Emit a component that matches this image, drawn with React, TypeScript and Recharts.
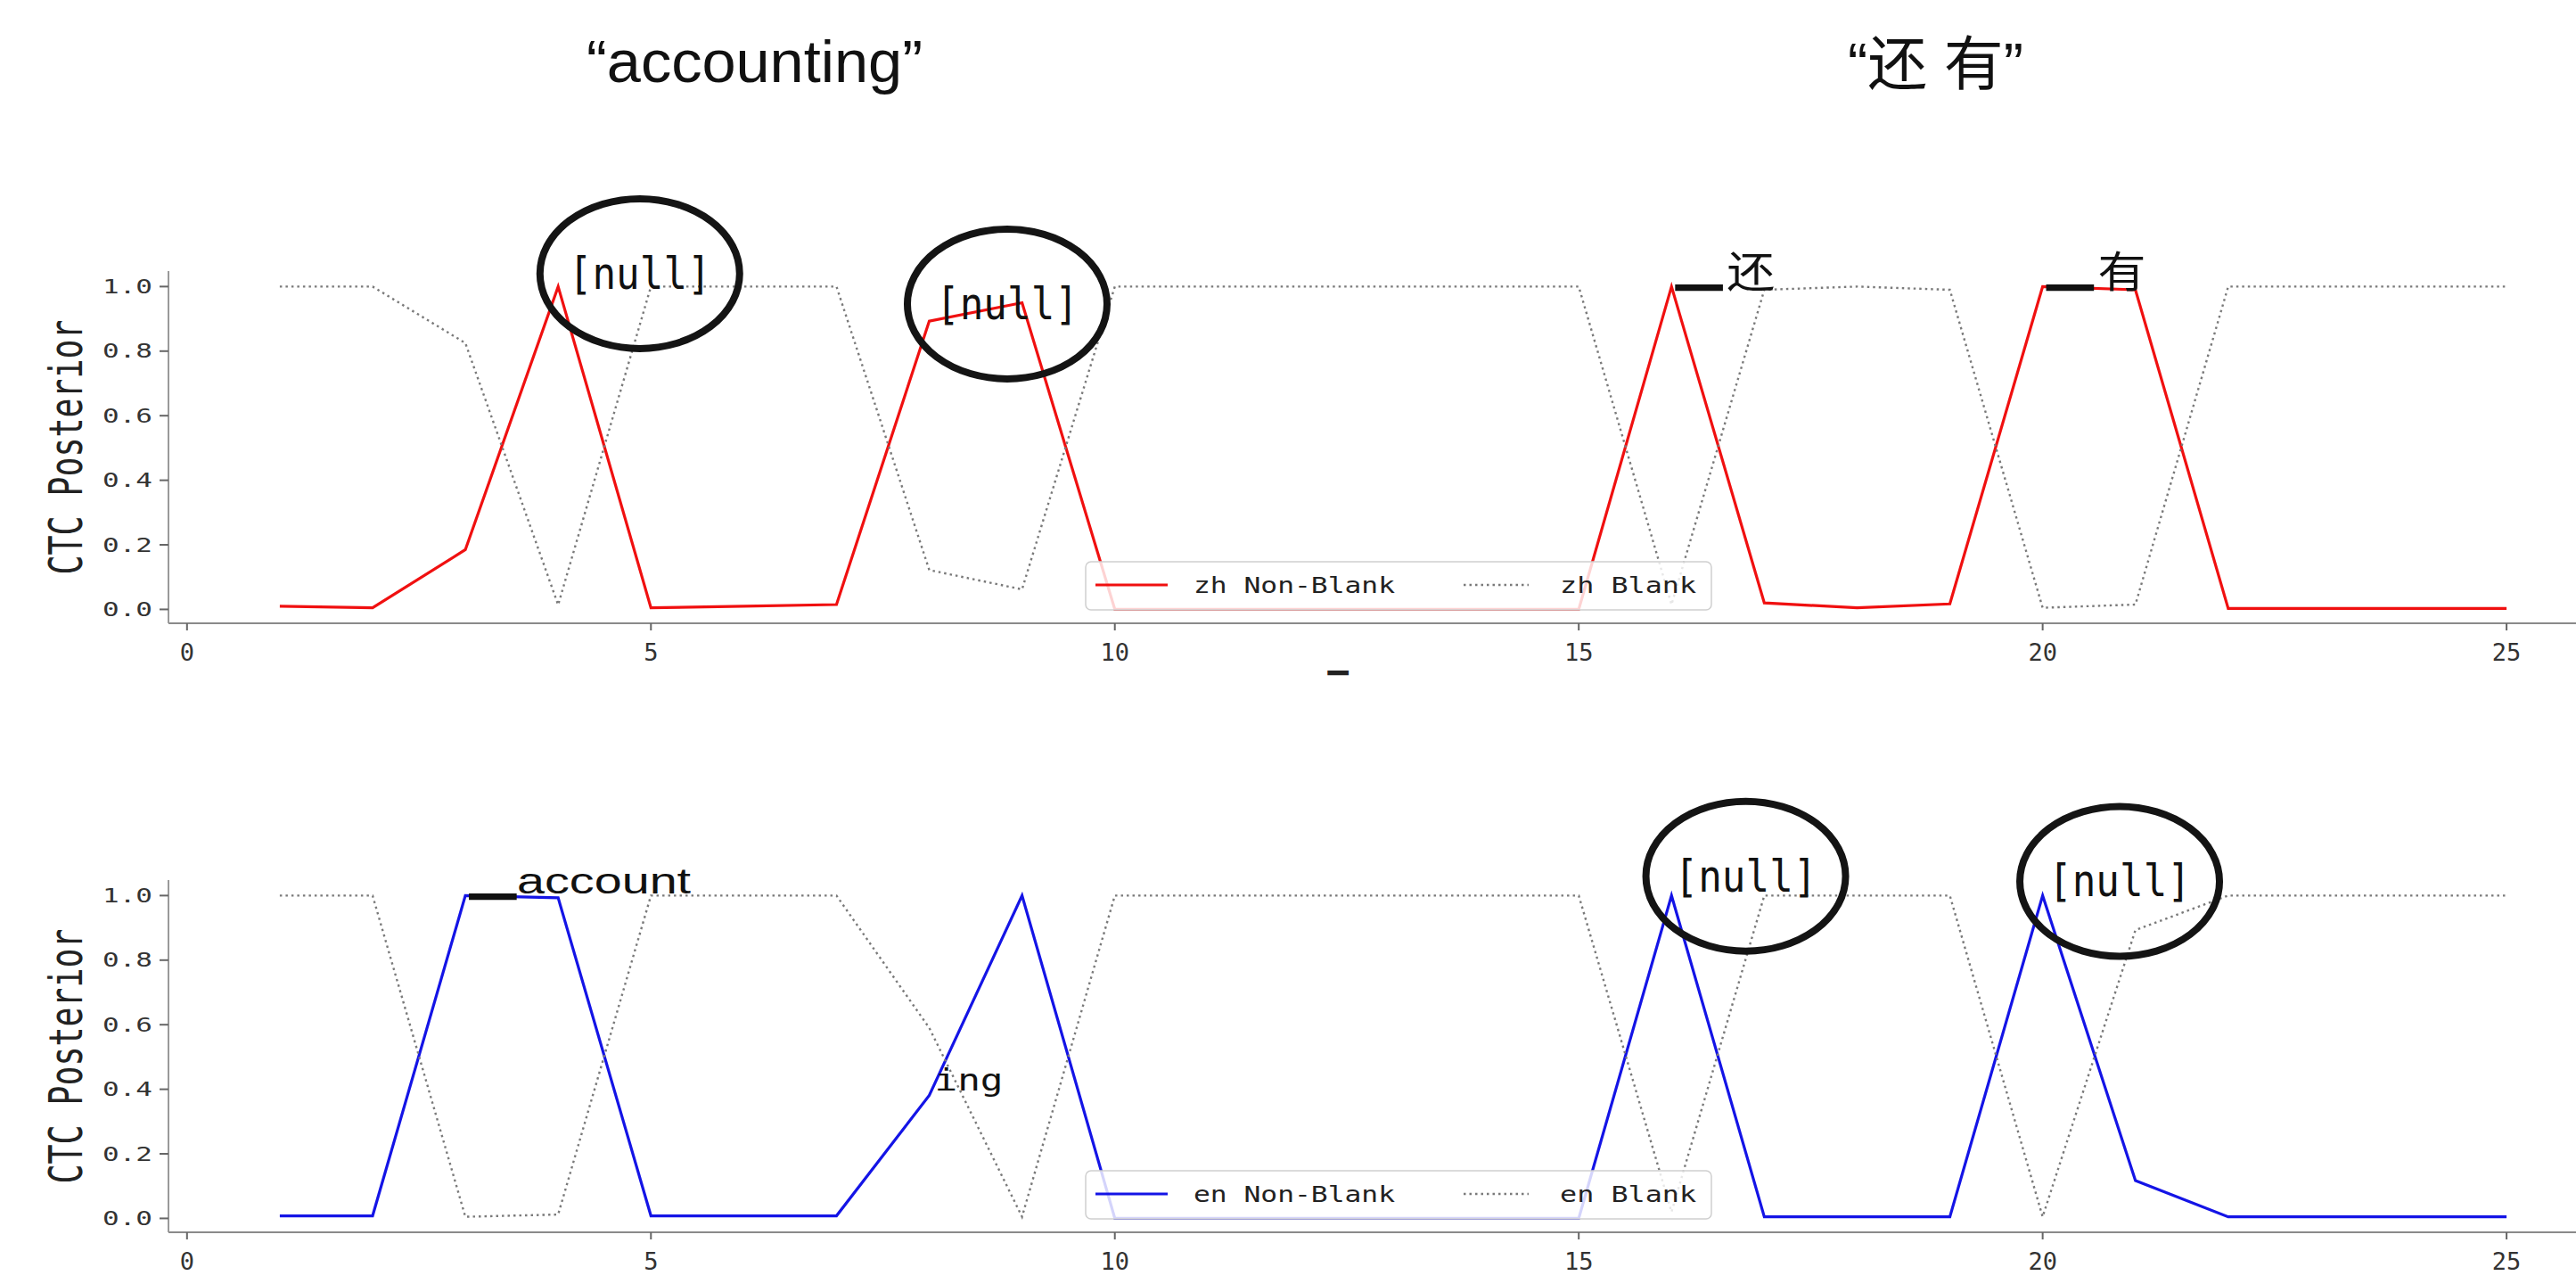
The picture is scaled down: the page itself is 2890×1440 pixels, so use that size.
import React from "react";
import { LineChart, Line, XAxis, YAxis, ReferenceDot, Legend } from "recharts";

// frame index (x axis)
const steps = [1, 2, 3, 4, 5, 6, 7, 8, 9, 10, 11, 12, 13, 14, 15, 16, 17, 18, 19, 20, 21, 22, 23, 24, 25];

const zhNonBlank = [0.01, 0.005, 0.185, 1.0, 0.005, 0.01, 0.015, 0.893, 0.95, 0.0, 0.0, 0.0, 0.0, 0.0, 0.0, 1.0, 0.02, 0.005, 0.017, 1.0, 0.99, 0.003, 0.003, 0.003, 0.003];
const zhBlank = [1.0, 1.0, 0.825, 0.014, 1.0, 1.0, 1.0, 0.122, 0.062, 1.0, 1.0, 1.0, 1.0, 1.0, 1.0, 0.015, 0.99, 1.0, 0.99, 0.005, 0.015, 1.0, 1.0, 1.0, 1.0];

const enNonBlank = [0.008, 0.008, 1.0, 0.993, 0.008, 0.008, 0.008, 0.381, 1.0, 0.0, 0.0, 0.0, 0.0, 0.0, 0.0, 1.0, 0.005, 0.005, 0.005, 1.0, 0.117, 0.005, 0.005, 0.005, 0.005];
const enBlank = [1.0, 1.0, 0.005, 0.012, 1.0, 1.0, 1.0, 0.59, 0.005, 1.0, 1.0, 1.0, 1.0, 1.0, 1.0, 0.02, 1.0, 1.0, 1.0, 0.005, 0.893, 1.0, 1.0, 1.0, 1.0];

const xTicks = [0, 5, 10, 15, 20, 25];
const yTicks = [0, 0.2, 0.4, 0.6, 0.8, 1.0];

// annotations, anchored in data space
const zhNotes = [
  { x: 4.88, y: 1.04, label: "[null]", kind: "circle" },
  { x: 8.84, y: 0.946, label: "[null]", kind: "circle" },
  { x: 16, y: 1.0, label: "▁还", kind: "piece" },
  { x: 20, y: 1.0, label: "▁有", kind: "piece" },
];
const enNotes = [
  { x: 3, y: 1.0, label: "▁account", kind: "piece" },
  { x: 8, y: 0.381, label: "ing", kind: "plain" },
  { x: 16.8, y: 1.06, label: "[null]", kind: "circle" },
  { x: 20.83, y: 1.044, label: "[null]", kind: "circle" },
];

const MONO = "'DejaVu Sans Mono', monospace";
const CJK = "'Noto Sans CJK SC', sans-serif";
const SANS = "'Liberation Sans', 'Noto Sans CJK SC', sans-serif";

const renderXTick = (props: any) => {
  const { x, y, payload } = props;
  return (
    <text x={x} y={y} dy={20} textAnchor="middle" fontFamily={MONO} fontSize={27} fill="#333">
      {payload.value}
    </text>
  );
};

const renderYTick = (props: any) => {
  const { x, y, payload } = props;
  return (
    <text x={x} y={y} textAnchor="end" dominantBaseline="central" fontFamily={MONO} fontSize={22} fill="#333" textLength={56} lengthAdjust="spacingAndGlyphs">
      {Number(payload.value).toFixed(1)}
    </text>
  );
};

const renderTitle = (props: any) => {
  const vb = props.viewBox;
  return (
    <text x={vb.x + vb.width / 2} y={vb.y - 17} textAnchor="middle" fontFamily={MONO} fontSize={32} fill="#222" textLength={440} lengthAdjust="spacingAndGlyphs">
      {props.value}
    </text>
  );
};

const renderYLabel = (props: any) => {
  const vb = props.viewBox;
  const cx = vb.x + 5;
  const cy = vb.y + vb.height / 2;
  return (
    <text transform={`translate(${cx},${cy}) scale(1.4,1) rotate(-90)`} textAnchor="middle" dominantBaseline="central" fontFamily={MONO} fontSize={37} fill="#222" textLength={286} lengthAdjust="spacingAndGlyphs">
      {props.value}
    </text>
  );
};

const renderXLabel = (props: any) => {
  const vb = props.viewBox;
  return (
    <text x={vb.x + vb.width / 2 - 62} y={vb.y + 50} textAnchor="middle" fontFamily={MONO} fontSize={34} fill="#222" textLength={23} lengthAdjust="spacingAndGlyphs">
      {props.value}
    </text>
  );
};

const noteShape = (note: any) => (props: any) => {
  const { cx, cy } = props;
  if (note.kind === "circle") {
    return (
      <g>
        <ellipse cx={cx} cy={cy} rx={112} ry={84} fill="none" stroke="#141414" strokeWidth={8} />
        <text x={cx} y={cy} textAnchor="middle" dominantBaseline="central" fontFamily={MONO} fontSize={50} fill="#111" textLength={160} lengthAdjust="spacingAndGlyphs">
          {note.label}
        </text>
      </g>
    );
  }
  if (note.kind === "piece") {
    const word = note.label.slice(1);
    const cjk = /[\u4e00-\u9fff]/.test(word);
    return (
      <g>
        <text x={cx + 5} y={cy - 6} fontFamily={MONO} fontSize={46} fill="#111" textLength={52} lengthAdjust="spacingAndGlyphs">
          {note.label.slice(0, 1)}
        </text>
        <text x={cx + (cjk ? 62 : 58)} y={cy + (cjk ? 1 : -2)} fontFamily={cjk ? CJK : SANS} fontSize={cjk ? 48 : 40} fill="#111" textLength={cjk ? 54 : 195} lengthAdjust="spacingAndGlyphs">
          {word}
        </text>
      </g>
    );
  }
  return (
    <text x={cx + 6} y={cy - 5} fontFamily={MONO} fontSize={34} fill="#111" textLength={77} lengthAdjust="spacingAndGlyphs">
      {note.label}
    </text>
  );
};

const renderLegend = (props: any) => {
  // keep the plotting order: non-blank first, blank second
  const items = [...(props.payload || [])].sort((a: any, b: any) => (a.dataKey === "nb" ? -1 : b.dataKey === "nb" ? 1 : 0));
  const lineX = [12, 425];
  const lineW = [81, 73];
  const textX = [122, 533];
  const textW = [226, 153];
  return (
    <svg width={704} height={56} style={{ display: "block" }}>
      <rect x={1} y={1} width={702} height={54} rx={6} fill="rgba(255,255,255,0.82)" stroke="#cfcfcf" strokeWidth={1.5} />
      {items.map((it: any, i: number) => (
        <g key={i}>
          <line
            x1={lineX[i]}
            x2={lineX[i] + lineW[i]}
            y1={27}
            y2={27}
            stroke={it.color}
            strokeWidth={it.dataKey === "nb" ? 3.2 : 2.4}
            strokeDasharray={it.dataKey === "nb" ? undefined : "2.5 4"}
          />
          <text x={textX[i]} y={28} dominantBaseline="central" fontFamily={MONO} fontSize={24} fill="#222" textLength={textW[i]} lengthAdjust="spacingAndGlyphs">
            {it.value}
          </text>
        </g>
      ))}
    </svg>
  );
};

function Panel(props: any) {
  const { top, nonBlank, blank, color, lang, notes, xLabel } = props;
  const rows = steps.map((t, i) => ({ t, nb: nonBlank[i], bl: blank[i] }));
  return (
    <div style={{ position: "absolute", left: 0, top }}>
      <LineChart width={2950} height={760} data={rows} margin={{ top: 304, right: 13, bottom: 11, left: 69 }}>
        <XAxis
          dataKey="t"
          type="number"
          domain={[-0.2, 26.2]}
          allowDataOverflow
          ticks={xTicks}
          tick={renderXTick}
          tickSize={8}
          tickMargin={14}
          height={50}
          axisLine={{ stroke: "#8a8a8a", strokeWidth: 2 }}
          tickLine={{ stroke: "#666", strokeWidth: 2 }}
          label={xLabel ? { value: xLabel, content: renderXLabel } : undefined}
        />
        <XAxis
          xAxisId="top"
          orientation="top"
          dataKey="t"
          type="number"
          domain={[-0.2, 26.2]}
          allowDataOverflow
          height={0}
          tick={false}
          tickLine={false}
          axisLine={{ stroke: "#5a5a5a", strokeWidth: 2 }}
          label={{ value: `${lang} CTC Posteriors`, content: renderTitle }}
        />
        <YAxis
          type="number"
          domain={[-0.043, 1.048]}
          allowDataOverflow
          ticks={yTicks}
          tick={renderYTick}
          tickSize={10}
          tickMargin={8}
          width={120}
          axisLine={{ stroke: "#9a9a9a", strokeWidth: 2 }}
          tickLine={{ stroke: "#666", strokeWidth: 2 }}
          label={{ value: "CTC Posterior", content: renderYLabel }}
        />
        <Line type="linear" dataKey="nb" name={`${lang} Non-Blank`} stroke={color} strokeWidth={3.2} dot={false} isAnimationActive={false} />
        <Line type="linear" dataKey="bl" name={`${lang} Blank`} stroke="#7a7a7a" strokeWidth={2.4} strokeDasharray="2.5 4" dot={false} isAnimationActive={false} />
        {notes.map((n: any, i: number) => (
          <ReferenceDot key={i} x={n.x} y={n.y} r={1} ifOverflow="visible" shape={noteShape(n)} />
        ))}
        <Legend
          layout="horizontal"
          verticalAlign="middle"
          align="center"
          content={renderLegend}
          wrapperStyle={{ left: 1217, top: 629, width: 704, height: 56 }}
        />
      </LineChart>
    </div>
  );
}

export default function App() {
  return (
    <div style={{ position: "absolute", left: 0, top: 0, width: 2890, height: 1440, overflow: "hidden", background: "#fff" }}>
      <svg width={2890} height={130} style={{ position: "absolute", left: 0, top: 0 }}>
        <text x={658} y={92} fontFamily={SANS} fontSize={66} fill="#111" textLength={377} lengthAdjust="spacingAndGlyphs">
          “accounting”
        </text>
        <text x={2073} y={95} fontFamily={SANS} fontSize={66} fill="#111" textLength={197} lengthAdjust="spacingAndGlyphs">
          “还 有”
        </text>
      </svg>
      <Panel top={0} nonBlank={zhNonBlank} blank={zhBlank} color="#f01010" lang="zh" notes={zhNotes} xLabel="▁" />
      <Panel top={683} nonBlank={enNonBlank} blank={enBlank} color="#1414e6" lang="en" notes={enNotes} />
    </div>
  );
}
